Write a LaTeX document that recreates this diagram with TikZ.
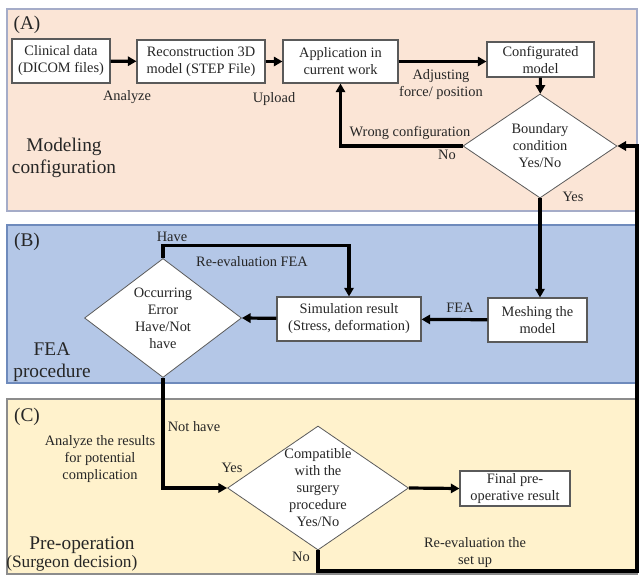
\documentclass[tikz,border=0pt]{standalone}
\usepackage{fontspec}
\setmainfont{Liberation Serif}
\usetikzlibrary{arrows.meta,shapes.geometric}

\definecolor{panelA}{RGB}{251,229,214}
\definecolor{panelB}{RGB}{180,199,231}
\definecolor{panelC}{RGB}{255,242,204}
\definecolor{edgeA}{RGB}{165,172,200}
\definecolor{edgeB}{RGB}{110,138,188}
\definecolor{edgeC}{RGB}{140,140,140}
\definecolor{boxline}{RGB}{90,90,90}
\definecolor{txt}{RGB}{38,38,38}

\begin{document}
\begin{tikzpicture}[x=0.75pt,y=0.75pt,yscale=-1,xscale=1,
  font=\fontsize{10.8}{12.75}\selectfont,
  every node/.style={text=txt},
  box/.style={draw=boxline,line width=0.8pt,fill=white,align=center,inner sep=1pt},
  decision/.style={diamond,draw=boxline,line width=0.6pt,fill=white,inner sep=0pt},
  dtext/.style={align=center,inner sep=0pt},
  flow/.style={line width=2.4pt,-{Triangle[length=6.5pt,width=7pt]}},
  lbl/.style={align=center,inner sep=0pt},
  big/.style={font=\fontsize{14.5}{16.5}\selectfont,align=center,inner sep=0pt}]
\useasboundingbox (0,0) rectangle (639,575);

% panels
\draw [draw=edgeA,fill=panelA,line width=0.8pt] (7,9) rectangle (637,211) ;
\draw [draw=edgeB,fill=panelB,line width=0.8pt] (7,225) rectangle (637,383) ;
\draw [draw=edgeC,fill=panelC,line width=0.8pt] (7,399) rectangle (637,574) ;

\node [big] (tagA) at (27,25) {(A)};
\node [big] (tagB) at (27,242) {(B)};
\node [big] (tagC) at (27,417) {(C)};
\node [big] (modcfg) at (64,158) {Modeling\\configuration};
\node [big] (feaproc) at (52,362) {FEA\\procedure};
\node [big] (preop) at (82,545) {Pre-operation};
\node [big,font=\fontsize{13}{15}\selectfont,anchor=west] (surgeon) at (6,563) {(Surgeon decision)};

% (A)
\node [box,minimum width=73.5pt,minimum height=33pt] (clin) at (61,61) {Clinical data\\(DICOM files)};
\node [box,minimum width=96pt,minimum height=32.25pt] (recon) at (201,61.5) {Reconstruction 3D\\model (STEP File)};
\node [box,minimum width=86.25pt,minimum height=32.25pt] (appl) at (340.5,61.5) {Application in\\current work};
\node [box,minimum width=80.25pt,minimum height=26.25pt] (config) at (540.5,59.5) {Configurated\\model};
\node [decision,minimum width=115.5pt,minimum height=78pt] (bound) at (540,146) {};
\node [dtext] (boundt) at (bound) {Boundary\\condition\\Yes/No};

% (B)
\node [box,minimum width=74.25pt,minimum height=33pt] (mesh) at (537.5,320) {Meshing the\\model};
\node [box,minimum width=108pt,minimum height=33pt] (sim) at (349,319) {Simulation result\\(Stress, deformation)};
\node [decision,minimum width=117.75pt,minimum height=89.25pt] (occ) at (163,318) {};
\node [dtext] (occt) at (occ) {Occurring\\Error\\Have/Not\\have};

% (C)
\node [decision,minimum width=135.75pt,minimum height=93pt] (compat) at (318,488) {};
\node [dtext] (compatt) at (compat) {Compatible\\with the\\surgery\\procedure\\Yes/No};
\node [box,minimum width=82.5pt,minimum height=26.25pt] (final) at (515,488.5) {Final pre-\\operative result};
\coordinate (loop) at (637,571);

% connectors
\draw [flow] (clin) -- (recon);
\draw [flow] (recon) -- (appl);
\draw [flow] (appl.east) -- (appl.east -| config.west);
\draw [flow] (config) -- (bound);
\draw [flow] (bound.west) -| (appl.south);
\draw [flow] (bound.south) -- (bound.south |- mesh.north);
\draw [flow] (mesh) -- (sim);
\draw [flow] (sim) -- (occ.east);
\draw [flow] (occ.north) -- ++(0,-13) -| (sim.north);
\draw [flow] (occ.south) |- (compat.west);
\draw [flow] (compat.east) -- (final.west);
\draw [flow] (compat.south) |- (loop) |- (bound.east);

% labels
\node [lbl] (lanalyze) at (127,97) {Analyze};
\node [lbl] (lupload) at (274,99) {Upload};
\node [lbl] (ladjust) at (441,85) {Adjusting\\force/ position};
\node [lbl] (lwrong) at (410,133) {Wrong configuration};
\node [lbl] (lno1) at (447,155) {No};
\node [lbl] (lyes1) at (573,197) {Yes};
\node [lbl] (lhave) at (172,237) {Have};
\node [lbl] (lrefea) at (252,262) {Re-evaluation FEA};
\node [lbl] (lfea) at (460,308) {FEA};
\node [lbl] (lnothave) at (194,427) {Not have};
\node [lbl] (lanres) at (100,459) {Analyze the results\\for potential\\complication};
\node [lbl] (lyes2) at (232,468) {Yes};
\node [lbl] (lno2) at (301,557) {No};
\node [lbl] (lreset) at (475,553) {Re-evaluation the\\set up};
\end{tikzpicture}
\end{document}
